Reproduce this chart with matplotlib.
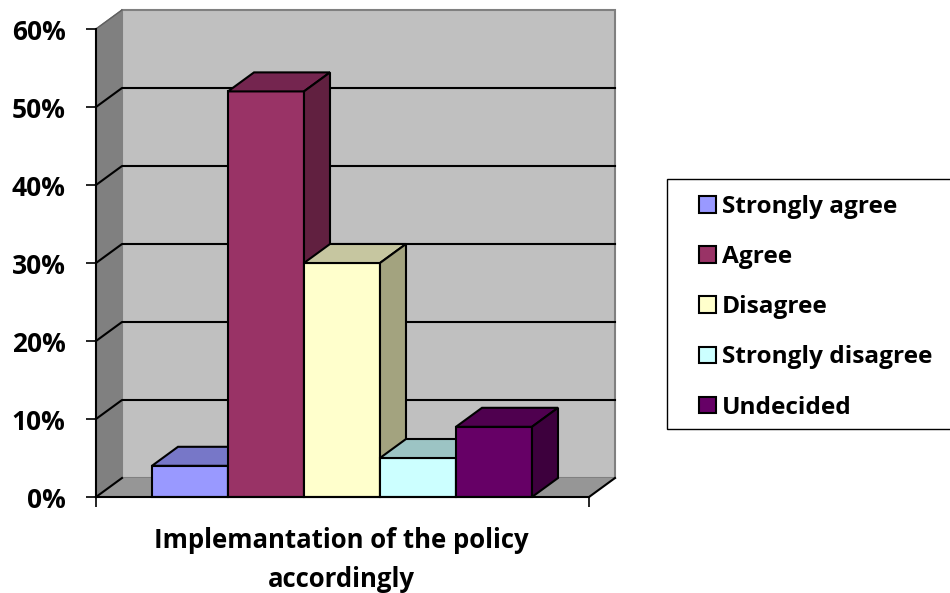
import matplotlib
matplotlib.use("Agg")
import matplotlib.pyplot as plt
from matplotlib.patches import Polygon, Rectangle

# survey answers, share of respondents (%)
answers = ["Strongly agree", "Agree", "Disagree", "Strongly disagree", "Undecided"]
shares = [4, 52, 30, 5, 9]
yticks = [0, 10, 20, 30, 40, 50, 60]
ytick_labels = ["0%", "10%", "20%", "30%", "40%", "50%", "60%"]
xlabel = "Implemantation of the policy\naccordingly"

front_cols = ["#9999ff", "#993366", "#ffffcc", "#ccffff", "#660066"]
top_cols = ["#7777c8", "#74254f", "#c6c6a0", "#9cc4c4", "#4f004f"]
side_cols = ["#6a6ab0", "#612040", "#a3a37f", "#85aaaa", "#3d003d"]

W, H = 950, 593
plt.rcParams['font.family'] = ['Open Sans', 'DejaVu Sans']
plt.rcParams['font.weight'] = 'bold'

fig = plt.figure(figsize=(W / 100, H / 100), dpi=100)

# plot box in pixels: front-left corner at x=96, floor at y=497, back wall top at y=10
px_per_unit = 76.0      # one bar width
px_per_pct = 7.8
left, right, top, bottom = 96, 615, 10, 497
ax = fig.add_axes([left / W, (H - bottom) / H, (right - left) / W, (bottom - top) / H])
ax.set_xlim(0, (right - left) / px_per_unit)
ax.set_ylim(0, (bottom - top) / px_per_pct)
ax.patch.set_visible(False)

dx = 26 / px_per_unit       # depth offset, x
dy = 19 / px_per_pct        # depth offset, y
x_floor = (589 - left) / px_per_unit
x_first = (152 - left) / px_per_unit
ytop = ax.get_ylim()[1]
ymax = yticks[-1]

# back wall
ax.add_patch(Polygon([(dx, dy), (x_floor + dx, dy), (x_floor + dx, ytop), (dx, ytop)],
                     closed=True, facecolor="#c0c0c0", edgecolor="#808080", lw=1.5,
                     clip_on=False, zorder=1))
# side wall
ax.add_patch(Polygon([(0, 0), (dx, dy), (dx, ytop), (0, ymax)], closed=True,
                     facecolor="#808080", edgecolor="#808080", lw=1, clip_on=False, zorder=1))
# floor
ax.add_patch(Polygon([(0, 0), (x_floor, 0), (x_floor + dx, dy), (dx, dy)], closed=True,
                     facecolor="#969696", edgecolor="none", clip_on=False, zorder=1))
ax.plot([x_floor, x_floor + dx], [0, dy], color="black", lw=1.5, clip_on=False, zorder=2)
ax.plot([0, dx], [0, dy], color="black", lw=1.5, clip_on=False, zorder=2)

# gridlines on the walls
for v in yticks[1:-1]:
    ax.plot([0, dx, x_floor + dx], [v, v + dy, v + dy], color="black", lw=1.5,
            clip_on=False, zorder=2)
ax.plot([0, dx], [ymax, ytop], color="#606060", lw=1, clip_on=False, zorder=2)

# bars: front faces, then top and side
xs = [x_first + i for i in range(len(shares))]
bars = []
for i, (x, v) in enumerate(zip(xs, shares)):
    b = ax.bar(x, v, width=1, align="edge", color=front_cols[i], edgecolor="black",
               lw=1.5, zorder=3 + i, label=answers[i], clip_on=False)
    bars.append(b)
    ax.add_patch(Polygon([(x, v), (x + 1, v), (x + 1 + dx, v + dy), (x + dx, v + dy)],
                         closed=True, facecolor=top_cols[i], edgecolor="black", lw=1.5,
                         zorder=3 + i, clip_on=False))
    ax.add_patch(Polygon([(x + 1, 0), (x + 1 + dx, dy), (x + 1 + dx, v + dy), (x + 1, v)],
                         closed=True, facecolor=side_cols[i], edgecolor="black", lw=1.5,
                         zorder=3 + i, clip_on=False))

# axes lines and ticks
for s in ["top", "right"]:
    ax.spines[s].set_visible(False)
ax.spines["left"].set_bounds(0, ymax)
ax.spines["bottom"].set_bounds(0, x_floor)
for s in ["left", "bottom"]:
    ax.spines[s].set_linewidth(1.5)
    ax.spines[s].set_zorder(10)
ax.set_yticks(yticks)
ax.set_yticklabels(ytick_labels, fontsize=19, fontweight="bold")
ax.set_xticks([0, x_floor])
ax.set_xticklabels([])
ax.tick_params(axis="both", direction="out", length=7, width=1.2)
ax.tick_params(axis="y", pad=15)

ax.set_xlabel(xlabel, fontsize=18.5, fontweight="bold", linespacing=1.55)
ax.xaxis.set_label_coords((341 - left) / (right - left), -0.062)
ax.xaxis.label.set_va("top")

# legend box
fig.patches.append(Rectangle((667 / W, (H - 429) / H), (W + 2 - 667) / W, 250 / H,
                             transform=fig.transFigure, facecolor="white",
                             edgecolor="black", lw=1))
leg = fig.legend(handles=[b.patches[0] for b in bars], labels=answers,
                 loc="upper left", bbox_to_anchor=(699 / W, 1 - 195 / H),
                 frameon=False, prop={"weight": "bold", "size": 17.6},
                 handlelength=0.68, handleheight=0.68, handletextpad=0.25,
                 labelspacing=1.07, borderpad=0, borderaxespad=0)

fig.savefig("out.png", dpi=100)
